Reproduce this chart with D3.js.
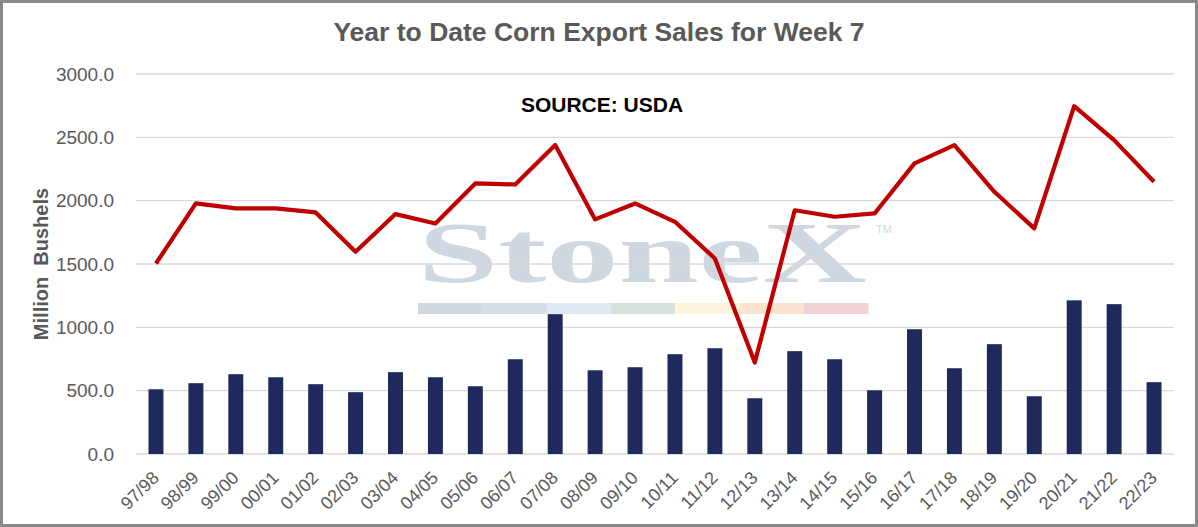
<!DOCTYPE html>
<html><head><meta charset="utf-8">
<script src="https://cdn.jsdelivr.net/npm/d3@7/dist/d3.min.js"></script>
<style>body{margin:0;background:#fff}svg{display:block}</style>
</head><body>
<svg id="c" width="1198" height="527"></svg>
<script>
const categories = ["97/98","98/99","99/00","00/01","01/02","02/03","03/04","04/05","05/06","06/07","07/08","08/09","09/10","10/11","11/12","12/13","13/14","14/15","15/16","16/17","17/18","18/19","19/20","20/21","21/22","22/23"];
const week7Sales = [511,559,630,606,551,488,646,606,535,748,1104,661,685,788,835,440,812,748,503,985,677,867,456,1213,1183,567];
const ytdSales = [1504,1978,1939,1939,1907,1596,1894,1820,2136,2128,2439,1852,1978,1833,1544,722,1924,1873,1899,2294,2439,2070,1781,2746,2478,2149];
const yTicks = [0,500,1000,1500,2000,2500,3000];
const watermarkColors = ["#d0d8e0","#d3dee8","#dfeaf3","#d5e3dc","#fbf6dc","#fbe5d0","#f1d3d5"];

const svg = d3.select("#c");
const W = 1198, H = 527;
const m = {l:136, r:24, t:74, b:73};
const x = d3.scaleBand().domain(categories).range([m.l, W - m.r]).paddingInner(0.625).paddingOuter(0.3125);
const xc = d3.scalePoint().domain(categories).range([m.l, W - m.r]).padding(0.5);
const y = d3.scaleLinear().domain([0,3000]).range([H - m.b, m.t]);
const sans = "'Liberation Sans',Arial,sans-serif";

svg.append("rect").attr("x",1.5).attr("y",1.5).attr("width",W-3).attr("height",H-3)
  .attr("fill","#fff").attr("stroke","#898989").attr("stroke-width",3);

// watermark
const wm = svg.append("g");
wm.append("text").attr("x",418).attr("y",282).attr("font-family","'Liberation Serif','DejaVu Serif',serif")
  .attr("font-weight","bold").attr("font-size",86).attr("fill","#cfd8e0")
  .attr("textLength",449).attr("lengthAdjust","spacingAndGlyphs").text("StoneX");
wm.append("text").attr("x",876).attr("y",233).attr("font-family",sans)
  .attr("font-size",11).attr("fill","#cfd8e0").text("TM");
const segW = 450/7;
wm.selectAll("rect").data(watermarkColors).join("rect")
  .attr("x",(d,i)=>418 + i*segW).attr("y",303).attr("width",segW+0.5).attr("height",11).attr("fill",d=>d);

// gridlines
svg.append("g").selectAll("line").data(yTicks).join("line")
  .attr("x1",m.l).attr("x2",W-m.r).attr("y1",d=>y(d)).attr("y2",d=>y(d))
  .attr("stroke","#d9d9d9").attr("stroke-width",1.3);

// y axis labels
const yAxis = d3.axisLeft(y).tickValues(yTicks).tickFormat(d3.format(".1f")).tickSize(0).tickPadding(22);
const ga = svg.append("g").attr("transform",`translate(${m.l},0)`).call(yAxis);
ga.select(".domain").remove();
ga.selectAll("text").attr("font-family",sans).attr("font-size",19).attr("fill","#595959");

// bars
svg.append("g").selectAll("rect").data(categories).join("rect")
  .attr("x",d=>x(d)).attr("width",x.bandwidth())
  .attr("y",(d,i)=>y(week7Sales[i])).attr("height",(d,i)=>y(0)-y(week7Sales[i]))
  .attr("fill","#1f2a5c");

// line
const line = d3.line().x((d,i)=>xc(categories[i])).y(d=>y(d));
svg.append("path").datum(ytdSales).attr("d",line).attr("fill","none")
  .attr("stroke","#c00000").attr("stroke-width",4.2).attr("stroke-linejoin","round");

// x axis labels
const xAxis = d3.axisBottom(xc).tickSize(0).tickPadding(0);
const gx = svg.append("g").attr("transform",`translate(0,${y(0)})`).call(xAxis);
gx.select(".domain").remove();
gx.selectAll("text").attr("font-family",sans).attr("font-size",18).attr("fill","#595959")
  .attr("text-anchor","end").attr("dy",0).attr("y",0)
  .attr("transform","translate(3.5,25) rotate(-45)");

// title
svg.append("text").attr("x",599).attr("y",41).attr("text-anchor","middle")
  .attr("font-family",sans).attr("font-weight","bold").attr("font-size",26.5)
  .attr("fill","#595959").text("Year to Date Corn Export Sales for Week 7");

svg.append("text").attr("x",602).attr("y",112).attr("text-anchor","middle")
  .attr("font-family",sans).attr("font-weight","bold").attr("font-size",21)
  .attr("fill","#000").text("SOURCE: USDA");

svg.append("text").attr("transform","translate(47.5,264) rotate(-90)").attr("text-anchor","middle")
  .attr("font-family",sans).attr("font-weight","bold").attr("font-size",20)
  .attr("fill","#595959").attr("xml:space","preserve").text("Million  Bushels");
</script>
</body></html>
